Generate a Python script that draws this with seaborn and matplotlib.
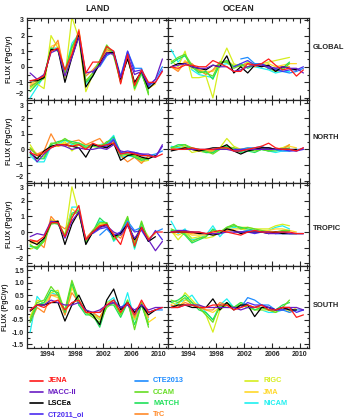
import numpy as np
import pandas as pd
import seaborn as sns
import matplotlib.pyplot as plt
from matplotlib.lines import Line2D
from matplotlib.ticker import MultipleLocator

# inversion models, their colours and the first year each one covers
models = ["JENA", "MACC-II", "LSCEa", "CT2011_oi", "CTE2013", "CCAM",
          "MATCH", "TrC", "RIGC", "JMA", "NICAM"]
colors = ["#ff1a1a", "#6a1cc4", "#000000", "#4b2cf0", "#1e8cff", "#66dd22",
          "#1fe05a", "#ff8a2a", "#d6ee1e", "#ffd82a", "#1ef0f0"]
first_year = dict(zip(models, [1991, 1991, 1991, 2000, 2001, 1991,
                               1991, 1991, 1991, 1991, 1991]))

regions = ["GLOBAL", "NORTH", "TROPIC", "SOUTH"]
domains = ["LAND", "OCEAN"]
year_ticks = [1994, 1998, 2002, 2006, 2010]

# annual flux anomalies (PgC/yr)
global_land = {
    "JENA": [-0.9, -0.8, -0.6, 1.0, 1.2, -0.2, 0.8, 2.3, -0.4, 0.3, 0.3, 1.3, 1.0, -1.1, 0.8, -1.2, -0.2, -1.0, -1.0, -0.3],
    "MACC-II": [-0.4, -0.8, -0.5, 0.9, 1.1, -0.6, 0.6, 1.9, -0.4, -0.3, 0.1, 0.9, 0.8, -0.7, 0.7, -0.5, -0.3, -1.2, -0.8, 0.5],
    "LSCEa": [-0.9, -0.9, -0.7, 1.1, 1.1, -1.0, 0.6, 2.0, -1.3, -0.6, 0.2, 0.9, 0.9, -0.8, 0.5, -1.0, -0.3, -1.4, -1.0],
    "CT2011_oi": [-0.4, 0.1, 0.8, 0.9, -0.7, 1.0, -0.3, -0.2, -1.1, -1.0, -0.2],
    "CTE2013": [0.0, 0.7, 1.0, -0.6, 1.0, -0.1, -0.1, -1.3, -0.8, 0.0],
    "CCAM": [-1.3, -1.0, -0.6, 1.1, 1.1, -0.4, 1.2, 2.2, -0.9, -0.4, 0.4, 1.4, 0.8, -0.9, 0.9, -1.3, -0.3, -1.8],
    "MATCH": [-1.6, -1.1, -0.7, 1.2, 1.0, -0.3, 1.3, 2.1, -1.0, -0.6, 0.3, 1.3, 0.9, -1.0, 0.8, -1.4, -0.4, -1.7],
    "TrC": [-1.2, -1.0, -0.5, 1.0, 1.7, -0.5, 0.7, 2.4, -0.6, -0.2, 0.3, 1.1, 0.9, -0.9, 0.7, -1.1, -0.3, -1.3],
    "RIGC": [-1.4, -1.1, -1.4, 2.0, 1.2, -0.7, 3.2, 1.8, -1.6, -0.5, 0.3, 1.2, 0.7, -1.0, 0.9, -1.5, -0.4, -1.6],
    "JMA": [-1.1, -0.9, -0.8, 1.3, 1.5, -0.4, 1.0, 2.0, -1.0, -0.4, 0.2, 1.0, 0.8, -0.8, 0.6, -1.2, -0.3, -1.4, -1.1],
    "NICAM": [-2.0, -1.3, -0.6, 1.2, 1.2, -0.3, 1.5, 2.1, -1.1, -0.5, 0.4, 1.2, 0.7, -0.9, 0.8, -1.3, -0.5, -1.5],
}
global_ocean = {
    "JENA": [0.0, -0.1, 0.1, 0.1, 0.0, 0.0, 0.4, 0.2, 0.0, -0.3, -0.3, 0.2, 0.1, 0.2, 0.5, 0.1, -0.2, -0.1, -0.6, -0.2],
    "MACC-II": [0.0, 0.1, 0.2, 0.0, -0.1, -0.1, 0.1, 0.0, 0.0, -0.3, -0.2, 0.0, 0.1, 0.1, 0.0, -0.1, 0.0, -0.1, -0.1, -0.4],
    "LSCEa": [0.0, 0.2, 0.2, 0.0, -0.1, -0.2, 0.1, 0.0, 0.7, -0.4, 0.0, -0.4, 0.1, 0.0, 0.1, -0.3, 0.0, -0.1, -0.2],
    "CT2011_oi": [0.0, 0.2, 0.4, 0.1, 0.2, -0.1, -0.2, -0.3, -0.2, -0.2, 0.0],
    "CTE2013": [0.5, 0.6, 0.2, 0.2, 0.0, -0.1, -0.3, -0.4, -0.3, -0.1],
    "CCAM": [0.3, 0.6, 0.8, 0.1, -0.3, -0.4, -0.6, 0.3, 0.3, -0.1, 0.1, 0.0, 0.2, 0.1, -0.1, -0.3, -0.2, 0.2],
    "MATCH": [0.2, 0.5, 0.7, 0.0, -0.4, -0.3, -0.8, 0.2, 0.4, 0.0, 0.2, -0.1, 0.1, 0.2, -0.1, -0.2, -0.1, 0.3],
    "TrC": [0.0, -0.3, 0.3, 0.2, -0.2, -0.5, -0.2, 0.3, 0.3, 0.0, 0.1, 0.2, 0.0, 0.2, 0.0, -0.1, 0.0, 0.0],
    "RIGC": [0.4, 0.0, 1.0, -0.7, -0.7, -0.6, -2.0, 0.2, 1.2, 0.2, 0.0, 0.3, 0.2, 0.2, 0.3, 0.4, 0.5, 0.6],
    "JMA": [0.0, -0.2, 0.4, -0.1, -0.2, -0.3, -0.3, 0.2, 0.4, 0.1, 0.1, 0.2, 0.1, 0.1, 0.2, 0.0, 0.1, 0.2, 0.2],
    "NICAM": [1.1, 0.3, 0.8, -0.2, -0.5, -0.6, -0.7, 0.1, 0.2, 0.1, 0.0, 0.3, 0.0, -0.1, -0.2, -0.4, -0.3, -0.3],
}
north_land = {
    "JENA": [-0.2, -0.4, -0.2, 0.1, 0.3, 0.3, 0.2, 0.3, 0.0, 0.4, 0.2, 0.3, 0.4, -0.3, -0.2, -0.3, -0.4, -0.4, -0.5, -0.3],
    "MACC-II": [-0.1, -0.8, -0.3, 0.1, 0.3, 0.2, 0.0, 0.1, 0.0, 0.0, 0.1, 0.0, 0.3, -0.1, -0.2, -0.2, -0.3, -0.3, -0.5, 0.3],
    "LSCEa": [-0.2, -0.6, -0.1, 0.2, 0.3, 0.3, 0.2, 0.1, -0.5, 0.3, 0.2, 0.1, 0.4, -0.7, -0.4, -0.3, -0.5, -0.6, -0.4],
    "CT2011_oi": [0.3, 0.2, 0.2, 0.6, -0.2, -0.1, -0.2, -0.3, -0.4, -0.5, 0.2],
    "CTE2013": [0.1, 0.3, 0.7, -0.3, -0.2, -0.2, -0.4, -0.4, -0.3, -0.1],
    "CCAM": [0.1, -0.4, -0.5, 0.4, 0.4, 0.7, 0.4, 0.3, 0.1, 0.2, 0.1, 0.5, 0.6, -0.4, -0.3, -0.4, -0.6, -0.6],
    "MATCH": [-0.3, -0.6, -0.6, 0.3, 0.5, 0.6, 0.5, 0.4, 0.2, 0.3, 0.2, 0.4, 0.8, -0.2, -0.3, -0.5, -0.7, -0.6],
    "TrC": [0.0, -0.3, -0.1, 1.0, 0.2, 0.3, 0.5, 0.6, 0.3, 0.5, 0.7, 0.1, 0.6, -0.4, -0.8, -0.5, -0.9, -0.4],
    "RIGC": [0.3, -0.4, -0.3, 0.2, 0.2, 0.5, -0.1, 0.3, 0.1, 0.2, 0.3, 0.2, 0.4, -0.3, -0.3, -0.4, -0.8, -0.7],
    "JMA": [0.1, -0.3, -0.2, 0.2, 0.3, 0.4, 0.2, 0.4, 0.3, 0.3, 0.2, 0.3, 0.5, -0.3, -0.4, -0.3, -0.7, -0.5, -0.4],
    "NICAM": [-0.4, -0.8, -0.8, 0.2, 0.3, 0.6, 0.3, 0.4, 0.1, 0.2, 0.3, 0.4, 0.9, -0.5, -0.4, -0.5, -0.6, -0.7],
}
north_ocean = {
    "JENA": [0.0, 0.0, 0.0, 0.1, 0.0, 0.0, 0.0, 0.1, 0.1, -0.1, -0.1, 0.0, 0.1, 0.2, 0.4, 0.1, 0.0, 0.0, -0.1, 0.1],
    "MACC-II": [0.0, 0.0, 0.0, 0.0, 0.0, 0.0, 0.0, 0.0, 0.0, -0.1, -0.1, 0.0, 0.0, 0.0, 0.0, 0.0, 0.0, 0.0, -0.1, 0.1],
    "LSCEa": [-0.1, 0.0, 0.1, 0.0, -0.1, 0.0, 0.1, 0.1, 0.3, -0.1, -0.3, -0.1, 0.0, 0.1, 0.1, 0.0, 0.0, 0.0, 0.0],
    "CT2011_oi": [0.0, 0.0, 0.0, 0.0, 0.1, 0.1, 0.0, 0.0, -0.1, -0.1, 0.0],
    "CTE2013": [0.0, 0.1, 0.1, 0.2, 0.0, 0.0, -0.1, -0.1, 0.0, 0.0],
    "CCAM": [0.1, 0.2, 0.3, 0.1, 0.0, -0.1, -0.3, 0.0, 0.1, 0.1, -0.1, 0.0, -0.1, 0.0, -0.1, 0.0, 0.0, 0.1],
    "MATCH": [0.1, 0.3, 0.3, 0.0, 0.0, -0.2, -0.2, 0.1, 0.2, 0.0, -0.2, -0.1, -0.2, 0.0, -0.1, -0.1, 0.0, 0.0],
    "TrC": [0.0, 0.0, 0.1, 0.0, -0.1, -0.1, -0.1, 0.1, 0.1, 0.0, 0.0, 0.0, 0.0, 0.1, 0.1, 0.0, 0.0, 0.3],
    "RIGC": [0.1, 0.0, 0.2, -0.2, -0.1, -0.2, -0.1, 0.1, 0.7, 0.2, 0.0, 0.1, 0.0, 0.1, 0.0, 0.0, 0.1, 0.3],
    "JMA": [0.0, 0.0, 0.1, 0.0, 0.0, -0.1, -0.1, 0.1, 0.2, 0.1, 0.0, 0.0, 0.1, 0.1, 0.1, 0.0, 0.1, 0.2, 0.1],
    "NICAM": [0.2, 0.1, 0.2, 0.0, -0.1, -0.2, -0.2, 0.0, 0.1, 0.0, -0.1, 0.0, 0.0, 0.0, -0.1, -0.2, -0.1, -0.1],
}
tropic_land = {
    "JENA": [-0.5, -0.6, -0.3, 0.6, 0.6, -0.3, 0.9, 1.7, -0.5, 0.0, 0.4, 0.5, -0.2, -0.8, 0.6, -0.9, 0.3, -0.5, 0.0, 0.0],
    "MACC-II": [-0.3, -0.1, -0.2, 0.7, 0.6, -0.4, 0.7, 1.3, -0.5, 0.0, 0.3, 0.4, 0.0, -0.2, 0.4, -0.4, 0.2, -0.5, -1.2, -0.6],
    "LSCEa": [-0.6, -0.8, -0.4, 0.6, 0.7, -0.8, 0.5, 1.3, -0.8, 0.0, 0.3, 0.5, -0.3, -0.1, 0.5, -0.5, 0.3, -0.6, -0.3],
    "CT2011_oi": [-0.1, 0.2, 0.3, -0.2, 0.0, 0.5, 0.0, 0.1, -0.6, 0.1, -0.5],
    "CTE2013": [-0.2, 0.2, -0.3, 0.0, 0.7, 0.1, 0.3, -0.5, 0.0, 0.2],
    "CCAM": [-0.8, -1.1, -0.6, 0.5, 0.6, -0.2, 1.1, 1.3, -0.6, 0.1, 0.6, 0.6, -0.5, 0.0, 1.0, -0.8, 0.7, -0.6],
    "MATCH": [-0.9, -1.0, -0.5, 0.6, 0.5, -0.3, 1.2, 1.4, -0.7, 0.0, 0.9, 0.5, -0.5, -0.1, 0.9, -1.0, 0.6, -0.6],
    "TrC": [-0.6, -0.6, -1.0, 1.0, 0.5, 0.2, 0.7, 1.2, -0.4, 0.1, 0.4, 0.4, -0.1, -0.4, 0.5, -0.7, 0.3, -0.4],
    "RIGC": [-1.1, -0.9, -0.6, 0.8, 0.6, -0.2, 2.9, 1.2, -0.6, 0.0, 0.5, 0.6, -0.4, -0.2, 0.8, -0.9, 0.4, -0.3],
    "JMA": [-0.7, -0.7, -0.5, 0.7, 0.7, -0.3, 1.5, 1.1, -0.5, 0.1, 0.5, 0.5, -0.3, -0.1, 0.6, -0.7, 0.3, -0.4, -0.1],
    "NICAM": [-0.9, -1.1, -0.5, 0.6, 0.6, -0.3, 1.6, 1.6, -0.7, 0.0, 0.7, 0.6, -0.6, -0.1, 0.8, -1.1, 0.5, -0.5],
}
tropic_ocean = {
    "JENA": [0.0, 0.0, 0.0, 0.0, 0.0, -0.1, 0.0, 0.1, 0.0, -0.1, -0.2, 0.0, 0.1, 0.0, 0.0, 0.0, 0.0, 0.0, -0.1, -0.1],
    "MACC-II": [0.0, 0.1, 0.1, 0.0, 0.0, -0.1, -0.1, -0.1, 0.0, 0.0, 0.0, 0.0, 0.0, 0.0, -0.1, -0.1, 0.0, -0.1, -0.1, -0.1],
    "LSCEa": [0.0, 0.0, 0.0, 0.0, -0.1, -0.1, -0.2, -0.1, 0.2, 0.1, -0.1, 0.0, 0.0, 0.0, -0.1, 0.0, -0.1, -0.1, -0.1],
    "CT2011_oi": [0.0, 0.0, 0.0, -0.1, 0.0, 0.0, -0.1, -0.1, -0.1, -0.1, -0.1],
    "CTE2013": [0.0, 0.1, 0.1, 0.0, 0.0, -0.1, -0.1, -0.1, -0.1, -0.1],
    "CCAM": [0.2, 0.0, -0.1, -0.6, -0.4, -0.3, 0.1, 0.0, 0.3, 0.5, 0.2, 0.3, 0.2, 0.1, 0.0, 0.0, 0.1, 0.1],
    "MATCH": [0.1, 0.1, -0.2, -0.7, -0.5, -0.3, 0.2, -0.1, 0.3, 0.4, 0.3, 0.2, 0.1, 0.0, 0.0, 0.0, 0.0, 0.1],
    "TrC": [0.0, 0.0, 0.0, -0.1, -0.1, -0.1, -0.1, 0.0, 0.1, 0.1, 0.0, 0.0, 0.1, 0.0, 0.0, 0.0, 0.0, 0.0],
    "RIGC": [0.1, -0.5, 0.0, -0.4, -0.3, -0.4, -0.3, 0.0, 0.2, 0.4, 0.3, 0.3, 0.2, 0.2, 0.2, 0.4, 0.5, 0.4],
    "JMA": [0.0, -0.2, 0.0, -0.2, -0.2, -0.2, -0.1, 0.0, 0.1, 0.2, 0.2, 0.1, 0.1, 0.1, 0.1, 0.2, 0.2, 0.1, 0.0],
    "NICAM": [0.7, -0.1, 0.2, -0.5, -0.4, -0.2, 0.4, -0.3, 0.2, 0.3, 0.2, 0.1, 0.0, 0.0, 0.1, 0.3, 0.4, 0.2],
}
south_land = {
    "JENA": [-0.1, 0.1, 0.0, 0.2, 0.3, -0.1, 0.2, 0.3, -0.2, -0.2, -0.2, 0.1, 0.3, -0.2, 0.2, -0.3, 0.3, -0.2, -0.1, 0.0],
    "MACC-II": [-0.1, 0.1, 0.1, 0.3, 0.2, 0.1, 0.1, 0.2, -0.1, -0.2, -0.1, 0.1, 0.2, 0.0, 0.1, -0.1, 0.1, -0.1, 0.0, 0.0],
    "LSCEa": [-0.15, 0.1, 0.1, 0.2, 0.2, -0.55, 0.1, 0.5, -0.1, -0.3, -0.7, 0.3, 0.75, -0.1, 0.2, -0.2, 0.1, -0.3, -0.1],
    "CT2011_oi": [-0.2, -0.2, 0.1, 0.2, 0.0, 0.1, -0.2, 0.1, -0.2, -0.1, 0.0],
    "CTE2013": [-0.2, 0.1, 0.3, 0.0, 0.2, -0.3, 0.1, -0.2, -0.1, -0.1],
    "CCAM": [-0.5, 0.2, 0.3, 0.85, 0.5, -0.1, 1.1, 0.3, -0.2, -0.4, -0.6, 0.0, 0.2, -0.3, 0.3, -0.9, 0.2, -0.8],
    "MATCH": [-0.6, 0.1, 0.2, 0.7, 0.6, -0.2, 1.0, 0.1, -0.3, -0.3, -0.8, 0.1, 0.1, -0.4, 0.2, -0.7, 0.1, -0.7],
    "TrC": [-0.6, 0.0, -0.2, 0.5, 0.5, -0.3, 0.6, 0.2, -0.2, -0.2, -0.4, 0.1, 0.2, -0.2, 0.2, -0.4, 0.2, -0.4],
    "RIGC": [-0.4, 0.3, 0.2, 0.6, 0.7, -0.2, 0.9, 0.3, -0.2, -0.3, -0.5, 0.2, 0.3, -0.3, 0.3, -0.5, 0.1, -0.6],
    "JMA": [-0.4, 0.2, 0.1, 0.5, 0.4, -0.3, 0.8, 0.2, -0.1, -0.3, -0.4, 0.1, 0.2, -0.2, 0.2, -0.4, 0.2, -0.6, -0.4],
    "NICAM": [-1.0, 0.45, 0.1, 0.6, 0.5, -0.3, 0.9, 0.1, -0.2, -0.2, -0.5, 0.2, 0.4, -0.3, 0.6, -0.5, 0.1, -0.5],
}
south_ocean = {
    "JENA": [0.0, 0.0, 0.1, 0.1, 0.0, 0.0, 0.1, 0.1, 0.1, -0.1, 0.0, 0.1, 0.0, 0.1, -0.1, -0.1, 0.0, 0.0, -0.4, -0.3],
    "MACC-II": [0.0, 0.0, 0.1, 0.1, 0.1, 0.0, 0.0, 0.0, 0.0, 0.0, -0.1, 0.0, 0.0, 0.1, 0.0, -0.1, 0.0, 0.0, 0.0, -0.1],
    "LSCEa": [0.0, 0.1, 0.1, 0.0, 0.0, 0.0, 0.35, -0.1, 0.2, -0.1, 0.1, 0.1, -0.37, 0.0, 0.0, -0.1, 0.0, -0.1, -0.1],
    "CT2011_oi": [0.0, 0.0, 0.2, 0.1, 0.1, 0.0, -0.1, -0.1, 0.0, -0.2, -0.1],
    "CTE2013": [0.0, 0.4, 0.3, 0.1, 0.1, -0.1, -0.1, -0.2, -0.1, -0.1],
    "CCAM": [0.3, 0.2, 0.4, 0.1, 0.0, -0.3, -0.6, 0.1, 0.0, 0.0, 0.1, 0.0, 0.0, 0.1, -0.1, -0.2, 0.0, 0.3],
    "MATCH": [0.2, 0.3, 0.5, 0.2, -0.1, -0.2, -0.5, 0.0, 0.2, 0.0, 0.2, 0.1, -0.1, 0.0, -0.1, -0.1, 0.1, 0.2],
    "TrC": [0.1, 0.0, 0.2, 0.1, 0.0, -0.1, -0.1, 0.2, 0.1, 0.0, 0.0, 0.1, 0.0, 0.0, 0.0, -0.1, 0.0, 0.0],
    "RIGC": [0.2, 0.1, 0.6, 0.3, 0.0, -0.3, -1.0, -0.1, 0.1, 0.0, 0.2, 0.0, -0.1, -0.1, -0.1, -0.2, 0.0, -0.1],
    "JMA": [0.1, 0.0, 0.3, 0.2, 0.1, -0.1, -0.2, 0.0, 0.1, 0.0, 0.1, 0.1, -0.1, 0.0, -0.1, -0.1, 0.0, -0.2, 0.0],
    "NICAM": [0.0, 0.2, 0.3, 0.5, 0.1, -0.2, -0.5, 0.1, 0.35, 0.0, 0.1, 0.0, -0.1, -0.1, -0.2, -0.2, -0.1, -0.1],
}

panels = {
    ("GLOBAL", "LAND"): global_land, ("GLOBAL", "OCEAN"): global_ocean,
    ("NORTH", "LAND"): north_land, ("NORTH", "OCEAN"): north_ocean,
    ("TROPIC", "LAND"): tropic_land, ("TROPIC", "OCEAN"): tropic_ocean,
    ("SOUTH", "LAND"): south_land, ("SOUTH", "OCEAN"): south_ocean,
}

rows = []
for (region, domain), panel in panels.items():
    for model, vals in panel.items():
        for k, v in enumerate(vals):
            rows.append(dict(region=region, domain=domain, model=model,
                             year=first_year[model] + k, flux=v))
df = pd.DataFrame(rows)
df["t"] = df["year"] + 0.5  # annual means plotted at mid-year

sns.set_style("ticks")
plt.rcParams["font.family"] = ["Liberation Sans", "DejaVu Sans"]
plt.rcParams["font.weight"] = "bold"

palette = dict(zip(models, colors))
fig, axes = plt.subplots(4, 2, figsize=(3.46, 4.2), dpi=100, sharex=True)
fig.subplots_adjust(left=0.078, right=0.893, top=0.958, bottom=0.171,
                    hspace=0, wspace=0)

fs = 5.0
label_y = {"GLOBAL": 0.64, "NORTH": 0.55, "TROPIC": 0.45, "SOUTH": 0.52}
for i, region in enumerate(regions):
    for j, domain in enumerate(domains):
        ax = axes[i, j]
        sub = df[(df.region == region) & (df.domain == domain)]
        sns.lineplot(data=sub, x="t", y="flux", hue="model",
                     hue_order=models[::-1], palette=palette,
                     estimator=None, errorbar=None, legend=False,
                     lw=0.9, ax=ax)
        ax.set_xlim(1991.05, 2011.3)
        ax.set_xticks(year_ticks)
        ax.xaxis.set_minor_locator(MultipleLocator(1))
        if region == "SOUTH":
            ax.set_ylim(-1.65, 1.7)
            ax.set_yticks(np.arange(-1.5, 1.6, 0.5))
            ax.yaxis.set_minor_locator(MultipleLocator(0.25))
            ax.set_yticklabels([f"{v:.1f}" for v in np.arange(-1.5, 1.6, 0.5)])
        else:
            ax.set_ylim(-2.15, 3.15)
            ax.set_yticks([-2, -1, 0, 1, 2, 3])
            ax.yaxis.set_minor_locator(MultipleLocator(0.5))
        ax.tick_params(which="both", direction="in", top=True, right=True,
                       labelsize=fs, width=0.8, pad=2)
        ax.tick_params(which="major", length=3.5)
        ax.tick_params(which="minor", length=1.8)
        for s in ax.spines.values():
            s.set_linewidth(0.9)
        ax.set_xlabel("")
        if j == 0:
            ax.set_ylabel("FLUX (PgC/yr)", fontsize=fs, fontweight="bold", labelpad=2)
            labels = ax.get_yticklabels()
            # keep the edge labels of stacked panels from running into each other
            if region != "SOUTH":
                labels[0].set_va("bottom")
            if region in ("NORTH", "TROPIC"):
                labels[-1].set_va("top")
        else:
            ax.set_ylabel("")
            ax.tick_params(labelleft=False)
            ax.text(1.025, label_y[region], region, transform=ax.transAxes,
                    fontsize=5.4, fontweight="bold", ha="left", va="center")
        if i == 0:
            ax.set_title(domain, fontsize=6.3, fontweight="bold", pad=5)

# legend: three columns of coloured names
col_x = [30, 135, 245]
row_y = [380.7, 392.3, 403.3, 414.3]
W, H = 346.0, 420.0
for idx, (m, c) in enumerate(zip(models, colors)):
    col, r = divmod(idx, 4)
    x0 = col_x[col] / W
    y0 = 1 - row_y[r] / H
    fig.add_artist(Line2D([x0, x0 + 13 / W], [y0, y0], color=c, lw=1.2,
                          transform=fig.transFigure))
    fig.text(x0 + 18 / W, y0, m, color=c, fontsize=5.3, fontweight="bold",
             va="center", ha="left")

fig.savefig("out.png", dpi=100)
